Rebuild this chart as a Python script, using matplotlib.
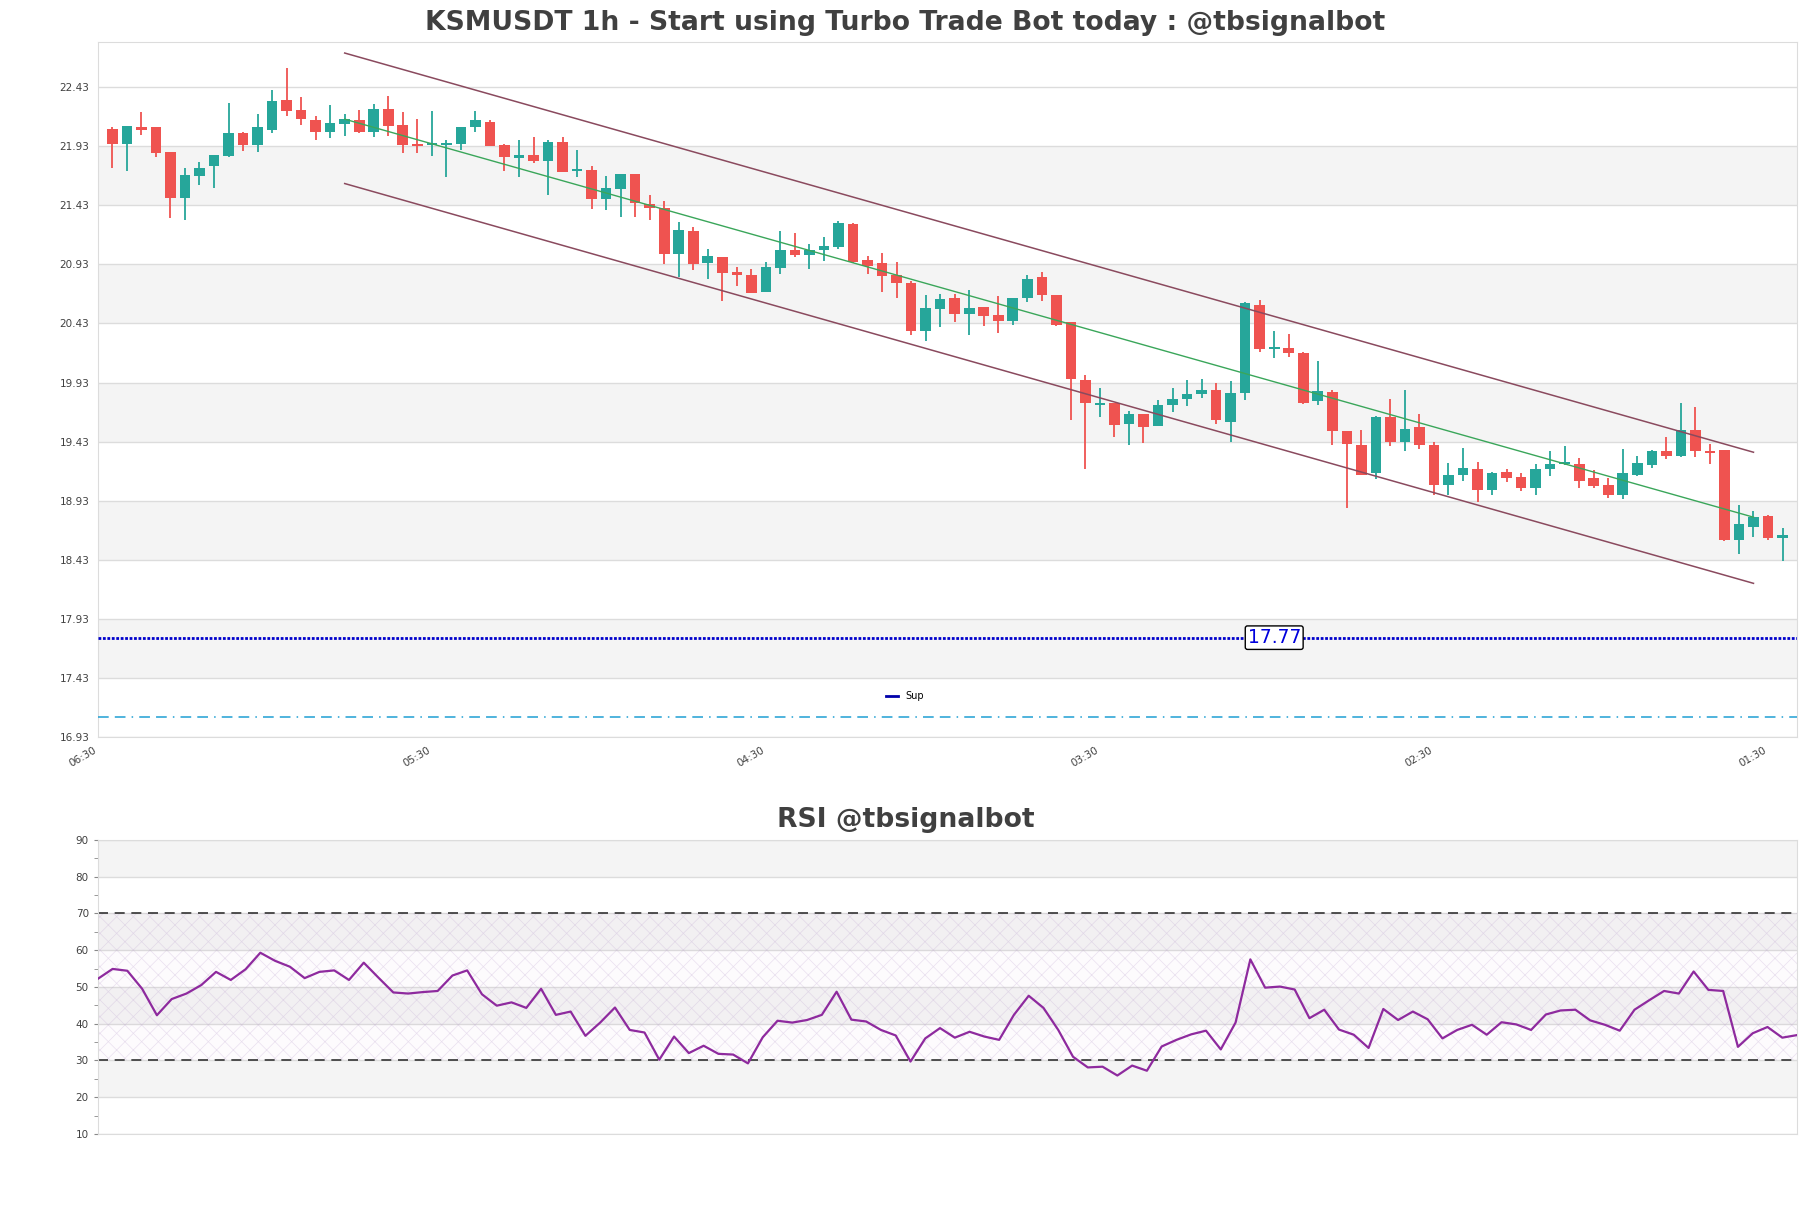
import numpy as np
import matplotlib
matplotlib.use("Agg")
import matplotlib.pyplot as plt

# candle data, one value per hour (oldest first)
opens = [22.08, 21.95, 22.09, 22.09, 21.88, 21.49, 21.68, 21.76, 21.85, 22.04,
         21.94, 22.07, 22.32, 22.24, 22.15, 22.05, 22.12, 22.15, 22.05, 22.25,
         22.11, 21.95, 21.94, 21.94, 21.95, 22.09, 22.14, 21.94, 21.83, 21.86,
         21.81, 21.97, 21.72, 21.73, 21.48, 21.57, 21.70, 21.44, 21.41, 21.02,
         21.21, 20.94, 20.99, 20.87, 20.84, 20.70, 20.90, 21.05, 21.01, 21.05,
         21.08, 21.27, 20.97, 20.94, 20.84, 20.77, 20.37, 20.55, 20.65, 20.51,
         20.57, 20.50, 20.45, 20.65, 20.82, 20.67, 20.44, 19.95, 19.74, 19.76,
         19.58, 19.66, 19.56, 19.74, 19.79, 19.83, 19.87, 19.60, 19.84, 20.59,
         20.21, 20.22, 20.18, 19.77, 19.85, 19.52, 19.40, 19.16, 19.64, 19.43,
         19.55, 19.40, 19.06, 19.15, 19.20, 19.02, 19.17, 19.13, 19.04, 19.20,
         19.24, 19.24, 19.12, 19.06, 18.98, 19.15, 19.23, 19.35, 19.31, 19.53,
         19.35, 19.36, 18.60, 18.71, 18.80, 18.61]
highs = [22.09, 22.10, 22.22, 22.09, 21.88, 21.75, 21.80, 21.86, 22.30, 22.05,
         22.20, 22.41, 22.59, 22.35, 22.19, 22.28, 22.20, 22.24, 22.29, 22.36,
         22.22, 22.16, 22.23, 21.98, 22.09, 22.23, 22.15, 21.95, 21.98, 22.01,
         21.98, 22.01, 21.90, 21.76, 21.68, 21.70, 21.70, 21.52, 21.47, 21.29,
         21.25, 21.06, 20.99, 20.91, 20.89, 20.95, 21.21, 21.20, 21.10, 21.16,
         21.30, 21.28, 21.00, 21.03, 20.95, 20.79, 20.67, 20.68, 20.68, 20.71,
         20.57, 20.66, 20.65, 20.84, 20.87, 20.67, 20.44, 19.99, 19.88, 19.76,
         19.69, 19.66, 19.78, 19.88, 19.95, 19.96, 19.93, 19.94, 20.61, 20.63,
         20.37, 20.34, 20.19, 20.11, 19.87, 19.52, 19.53, 19.65, 19.79, 19.87,
         19.66, 19.43, 19.25, 19.38, 19.26, 19.17, 19.20, 19.16, 19.24, 19.35,
         19.39, 19.29, 19.19, 19.12, 19.37, 19.31, 19.36, 19.47, 19.76, 19.72,
         19.41, 19.36, 18.89, 18.84, 18.81, 18.70]
lows = [21.75, 21.72, 22.03, 21.84, 21.32, 21.31, 21.60, 21.58, 21.84, 21.89,
        21.88, 22.04, 22.19, 22.11, 21.98, 22.00, 22.02, 22.04, 22.01, 22.02,
        21.87, 21.87, 21.85, 21.67, 21.90, 22.05, 21.93, 21.72, 21.67, 21.79,
        21.52, 21.71, 21.67, 21.40, 21.39, 21.33, 21.33, 21.31, 20.93, 20.82,
        20.88, 20.81, 20.62, 20.75, 20.69, 20.70, 20.85, 20.99, 20.89, 20.96,
        21.06, 20.94, 20.85, 20.70, 20.65, 20.33, 20.28, 20.40, 20.44, 20.33,
        20.41, 20.35, 20.42, 20.61, 20.62, 20.41, 19.61, 19.20, 19.64, 19.47,
        19.40, 19.42, 19.56, 19.68, 19.73, 19.80, 19.58, 19.43, 19.78, 20.19,
        20.14, 20.15, 19.75, 19.74, 19.40, 18.87, 19.15, 19.11, 19.39, 19.35,
        19.37, 18.98, 18.98, 19.10, 18.92, 18.98, 19.09, 19.01, 18.98, 19.14,
        19.23, 19.04, 19.04, 18.95, 18.94, 19.14, 19.21, 19.28, 19.30, 19.30,
        19.24, 18.59, 18.48, 18.62, 18.60, 18.42]
closes = [21.95, 22.10, 22.07, 21.87, 21.49, 21.69, 21.75, 21.86, 22.04, 21.94,
          22.09, 22.31, 22.23, 22.16, 22.05, 22.13, 22.16, 22.05, 22.25, 22.10,
          21.94, 21.93, 21.95, 21.96, 22.09, 22.15, 21.93, 21.84, 21.86, 21.81,
          21.97, 21.71, 21.74, 21.48, 21.58, 21.70, 21.45, 21.41, 21.02, 21.22,
          20.93, 21.00, 20.86, 20.84, 20.69, 20.91, 21.05, 21.01, 21.05, 21.09,
          21.28, 20.95, 20.92, 20.83, 20.77, 20.37, 20.56, 20.64, 20.51, 20.56,
          20.49, 20.45, 20.65, 20.81, 20.67, 20.42, 19.96, 19.76, 19.76, 19.57,
          19.66, 19.55, 19.74, 19.79, 19.83, 19.87, 19.61, 19.84, 20.60, 20.21,
          20.22, 20.18, 19.76, 19.86, 19.52, 19.41, 19.15, 19.64, 19.43, 19.54,
          19.40, 19.06, 19.15, 19.21, 19.02, 19.16, 19.12, 19.04, 19.20, 19.24,
          19.25, 19.10, 19.05, 18.98, 19.16, 19.25, 19.35, 19.31, 19.53, 19.35,
          19.33, 18.60, 18.73, 18.79, 18.61, 18.64]

rsi = [52.2, 54.9, 54.4, 49.5, 42.3, 46.7, 48.2, 50.5, 54.1, 51.9,
       54.8, 59.3, 57.1, 55.5, 52.4, 54.1, 54.5, 51.9, 56.6, 52.5,
       48.5, 48.2, 48.6, 48.9, 53.1, 54.5, 48.0, 44.9, 45.8, 44.3,
       49.5, 42.4, 43.3, 36.7, 40.3, 44.4, 38.3, 37.6, 30.2, 36.5,
       32.0, 34.0, 31.8, 31.6, 29.2, 36.3, 40.8, 40.3, 41.0, 42.4,
       48.7, 41.1, 40.6, 38.3, 36.8, 29.7, 36.0, 38.8, 36.2, 37.8,
       36.5, 35.6, 42.4, 47.6, 44.3, 38.3, 31.0, 28.1, 28.3, 25.9,
       28.6, 27.2, 33.8, 35.6, 37.1, 38.1, 33.0, 40.3, 57.5, 49.8,
       50.1, 49.3, 41.5, 43.8, 38.4, 37.0, 33.4, 44.0, 41.0, 43.3,
       41.2, 36.0, 38.3, 39.7, 37.0, 40.4, 39.8, 38.3, 42.5, 43.6,
       43.8, 40.9, 39.7, 38.1, 43.8, 46.4, 48.9, 48.2, 54.2, 49.2,
       48.9, 33.7, 37.4, 39.1, 36.2, 36.9]

# regression channel (start/end candle and prices)
chan_x = [16, 113]
chan_upper = [22.72, 19.34]
chan_mid = [22.16, 18.79]
chan_lower = [21.615, 18.23]

support = 17.77
lower_level = 17.10

time_ticks = [-1, 22, 45, 68, 91, 114]
time_labels = ["06:30", "05:30", "04:30", "03:30", "02:30", "01:30"]

price_ticks = [16.93 + 0.5 * k for k in range(12)]
rsi_ticks = [10, 20, 30, 40, 50, 60, 70, 80, 90]

UP = "#26a69a"
DOWN = "#ef5350"
BAND = "#f4f4f4"
GRID = "#dcdcdc"
TXT = "#404040"

plt.rcParams["hatch.linewidth"] = 0.5

fig = plt.figure(figsize=(18.11, 12.08), dpi=100)
ax = fig.add_axes([0.054, 0.39, 0.9383, 0.5749])
ax2 = fig.add_axes([0.054, 0.0613, 0.9383, 0.2434])

n = len(opens)
x = np.arange(n)
o = np.array(opens)
c = np.array(closes)
h = np.array(highs)
l = np.array(lows)

# price panel
ax.set_xlim(-1, n)
ax.set_ylim(16.93, 22.81)
for k in range(1, len(price_ticks) - 1, 2):
    ax.axhspan(price_ticks[k], price_ticks[k + 1], color=BAND, zorder=0, lw=0)
for t in price_ticks:
    ax.axhline(t, color=GRID, lw=1, zorder=0.5)

colors = np.where(c >= o, UP, DOWN)
ax.vlines(x, l, h, colors=colors, lw=1.3, zorder=2)
body = np.maximum(np.abs(c - o), 0.02)
ax.bar(x, body, bottom=np.minimum(o, c), width=0.73, color=colors, zorder=3, lw=0)

ax.plot(chan_x, chan_upper, color="#8a4a5e", lw=1.1, zorder=4)
ax.plot(chan_x, chan_lower, color="#8a4a5e", lw=1.1, zorder=4)
ax.plot(chan_x, chan_mid, color="#3aa65a", lw=1.0, zorder=4)

ax.axhline(support, color="#0000cc", lw=2, ls=(0, (1, 0.6)), zorder=4)
sup_handle, = ax.plot([], [], color="#0000aa", lw=2, label="Sup")
ax.axhline(lower_level, color="#1f9fd3", lw=1.1, ls=(0, (7, 4, 7, 4, 1, 4)), zorder=4)
ax.text(80, support, "%.2f" % support, color="#0000dd", fontsize=13.5,
        ha="center", va="center", zorder=6,
        bbox=dict(boxstyle="round,pad=0.12", fc="white", ec="black", lw=1))

ax.legend(handles=[sup_handle], loc="center", bbox_to_anchor=(0.475, 0.059),
          frameon=False, fontsize=7, handlelength=1.2)

ax.set_yticks(price_ticks)
ax.set_yticklabels(["%.2f" % t for t in price_ticks])
ax.set_xticks(time_ticks)
ax.set_xticklabels(time_labels, rotation=30, ha="right")
ax.tick_params(axis="both", length=0, labelsize=7.5, labelcolor=TXT, pad=6)
for s in ax.spines.values():
    s.set_color(GRID)

# rsi panel
ax2.set_xlim(0, n - 1)
ax2.set_ylim(10, 90)
for lo in [20, 40, 60, 80]:
    ax2.axhspan(lo, lo + 10, color=BAND, zorder=0, lw=0)
for t in rsi_ticks:
    ax2.axhline(t, color=GRID, lw=1, zorder=0.5)
ax2.fill_between([0, n - 1], 30, 70, facecolor=(0.8, 0.6, 0.85, 0.04),
                 edgecolor=(0.75, 0.65, 0.82, 0.32), hatch="xx", lw=0, zorder=1)
ax2.axhline(70, color="#333333", lw=1.2, ls=(0, (6, 4)), zorder=2)
ax2.axhline(30, color="#333333", lw=1.2, ls=(0, (6, 4)), zorder=2)
ax2.plot(x, rsi, color="#8e2a9e", lw=1.6, zorder=3)
ax2.set_yticks(rsi_ticks)
ax2.set_yticks(range(15, 90, 10), minor=True)
ax2.set_xticks([])
ax2.tick_params(axis="y", which="both", length=3, color="#888888",
                labelsize=7.5, labelcolor=TXT)
for s in ax2.spines.values():
    s.set_color(GRID)

fig.text(0.5, 0.981, "KSMUSDT 1h - Start using Turbo Trade Bot today : @tbsignalbot",
         ha="center", va="center", fontsize=19.2, fontweight="bold", color=TXT)
fig.text(0.5, 0.3212, "RSI @tbsignalbot", ha="center", va="center",
         fontsize=19.2, fontweight="bold", color=TXT)

fig.savefig("out.png", dpi=100)
